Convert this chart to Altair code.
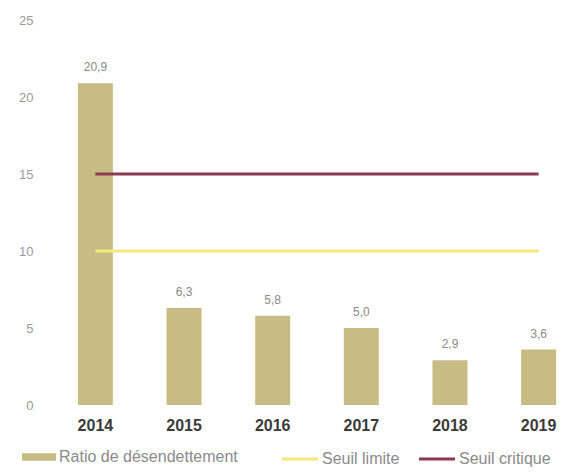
import altair as alt
import pandas as pd

years = ["2014", "2015", "2016", "2017", "2018", "2019"]
ratio = [20.9, 6.3, 5.8, 5.0, 2.9, 3.6]
ratio_labels = ["20,9", "6,3", "5,8", "5,0", "2,9", "3,6"]
seuil_limite = [10, 10, 10, 10, 10, 10]
seuil_critique = [15, 15, 15, 15, 15, 15]
y_ticks = [0, 5, 10, 15, 20, 25]

s_ratio = "Ratio de désendettement"
s_lim = "Seuil limite"
s_crit = "Seuil critique"

bars_df = pd.DataFrame({"year": years, "value": ratio, "label": ratio_labels, "serie": s_ratio})
lines_df = pd.DataFrame({
    "year": years + years,
    "value": seuil_limite + seuil_critique,
    "serie": [s_lim] * len(years) + [s_crit] * len(years),
})

FONT = "Liberation Sans"

x_enc = alt.X(
    "year:N",
    sort=years,
    title=None,
    scale=alt.Scale(paddingInner=0.6, paddingOuter=0.075),
    axis=alt.Axis(
        labelAngle=0, labelFont=FONT, labelFontSize=16, labelFontWeight="bold",
        labelColor="#3a3a3a", labelPadding=12, domain=False, ticks=False, grid=False,
    ),
)
y_enc = alt.Y(
    "value:Q",
    title=None,
    scale=alt.Scale(domain=[0, 25], nice=False),
    axis=alt.Axis(
        values=y_ticks, labelFont=FONT, labelFontSize=13, labelColor="#9a9a9a",
        labelPadding=38, domain=False, ticks=False, grid=False,
    ),
)

bars = alt.Chart(bars_df).mark_bar(size=35).encode(
    x=x_enc,
    y=y_enc,
    fill=alt.Fill(
        "serie:N",
        scale=alt.Scale(domain=[s_ratio], range=["#C8BC85"]),
        legend=alt.Legend(
            title=None, orient="none", legendX=-49, legendY=420, direction="horizontal",
            symbolType="M-1,-0.22H1V0.22H-1Z", symbolSize=1156, symbolStrokeWidth=0,
            labelFont=FONT, labelFontSize=16, labelColor="#8a8a8a", labelOffset=3,
            labelLimit=0, padding=0,
        ),
    ),
)

texts = alt.Chart(bars_df).mark_text(
    font=FONT, fontSize=12, color="#8a8a8a", baseline="middle", dy=-16
).encode(x=alt.X("year:N", sort=years), y="value:Q", text="label:N")

lines = alt.Chart(lines_df).mark_line(strokeWidth=3, strokeCap="butt").encode(
    x=alt.X("year:N", sort=years),
    y="value:Q",
    detail="serie:N",
    stroke=alt.Stroke(
        "serie:N",
        sort=[s_lim, s_crit],
        scale=alt.Scale(domain=[s_lim, s_crit], range=["#F5E77A", "#8B3A52"]),
        legend=alt.Legend(
            title=None, orient="none", legendX=209, legendY=419, direction="horizontal",
            symbolType="stroke", symbolSize=1300, symbolStrokeWidth=3,
            labelFont=FONT, labelFontSize=16, labelColor="#8a8a8a", labelOffset=2,
            labelLimit=0, columnPadding=12, padding=0,
        ),
    ),
)

chart = (
    alt.layer(bars, texts, lines)
    .resolve_scale(fill="independent", stroke="independent")
    .properties(
        width=492,
        height=385,
        autosize=alt.AutoSizeParams(type="none"),
        padding={"left": 71, "top": 20, "right": 0, "bottom": 69},
        background="white",
    )
    .configure_view(stroke=None)
)

chart.save("out.html", embed_options={"renderer": "svg", "actions": False})
